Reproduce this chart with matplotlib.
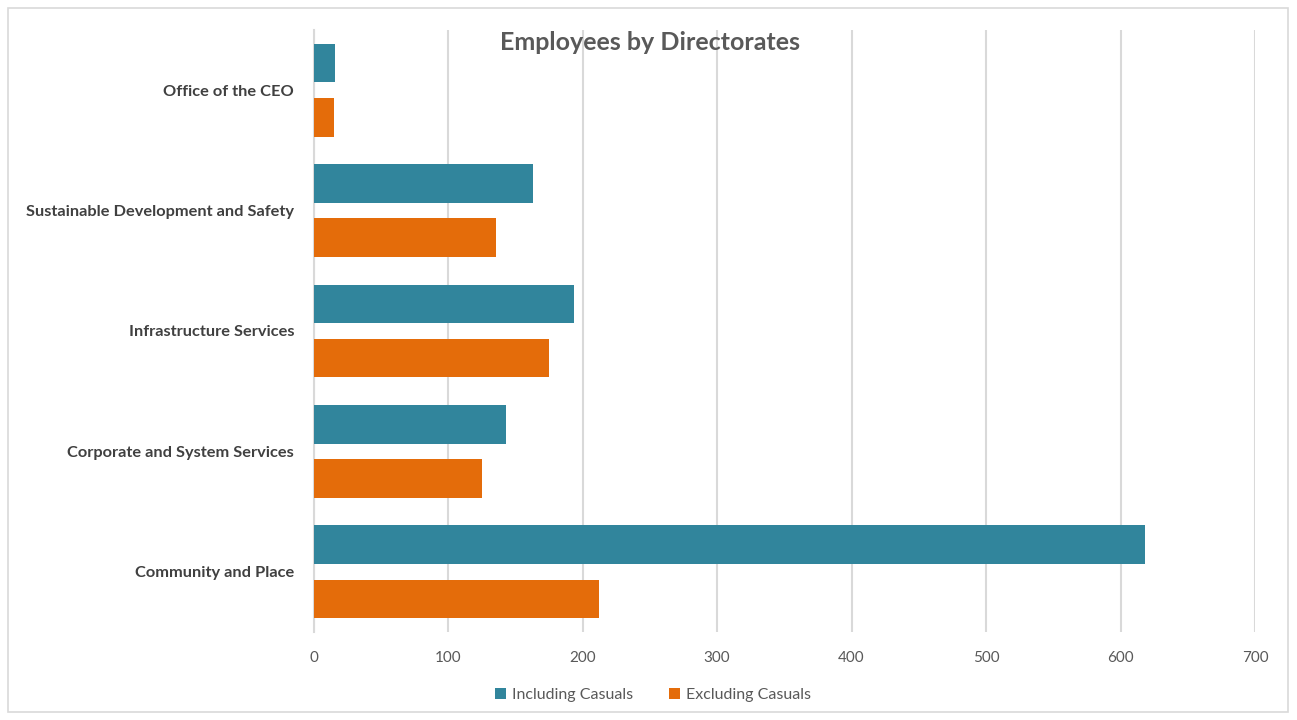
import matplotlib
matplotlib.use("Agg")
import matplotlib.pyplot as plt
import numpy as np
from matplotlib.patches import Rectangle

# data
directorates = ["Community and Place", "Corporate and System Services",
                "Infrastructure Services", "Sustainable Development and Safety",
                "Office of the CEO"]
including_casuals = [618, 143, 194, 163, 16]
excluding_casuals = [212, 125, 175, 136, 15]
xticks_vals = [0, 100, 200, 300, 400, 500, 600, 700]

teal = "#31859C"
orange = "#E46C0A"

plt.rcParams['font.family'] = ['Lato', 'DejaVu Sans']

fig = plt.figure(figsize=(12.97, 7.2), dpi=100)
ax = fig.add_axes([313.5 / 1297, 1 - 632 / 720, (1255 - 313.5) / 1297, (632 - 30) / 720])

y = np.arange(len(directorates))
h = 0.32
ax.barh(y + 0.225, including_casuals, height=h, color=teal, label="Including Casuals", zorder=3)
ax.barh(y - 0.225, excluding_casuals, height=h, color=orange, label="Excluding Casuals", zorder=3)

ax.set_xlim(0, 700)
ax.set_ylim(-0.5, 4.5)
ax.set_xticks(xticks_vals)
ax.set_yticks(y)
ax.set_yticklabels(directorates, fontsize=11.8, fontweight='bold', color='#404040')
ax.tick_params(axis='x', labelsize=11, colors='#595959', length=0, pad=14)
ax.tick_params(axis='y', length=0, pad=14)
ax.xaxis.grid(True, color='#d9d9d9', linewidth=1.5, zorder=0)
for s in ['top', 'right', 'bottom']:
    ax.spines[s].set_visible(False)
ax.spines['left'].set_color('#d9d9d9')
ax.spines['left'].set_linewidth(1.5)

fig.text(650 / 1297, 1 - 42 / 720, "Employees by Directorates", ha='center', va='center',
         fontsize=18, fontweight='bold', color='#595959')

fig.legend(loc='center', bbox_to_anchor=(653 / 1297, 1 - 695 / 720), ncol=2, frameon=False,
           fontsize=11.5, labelcolor='#595959', handlelength=0.7, handleheight=0.7,
           columnspacing=2.2, handletextpad=0.4)

fig.patches.append(Rectangle((8 / 1297, 8 / 720), 1280 / 1297, 704 / 720, transform=fig.transFigure,
                             fill=False, edgecolor='#d9d9d9', linewidth=1.2))

fig.savefig("out.png", dpi=100)
